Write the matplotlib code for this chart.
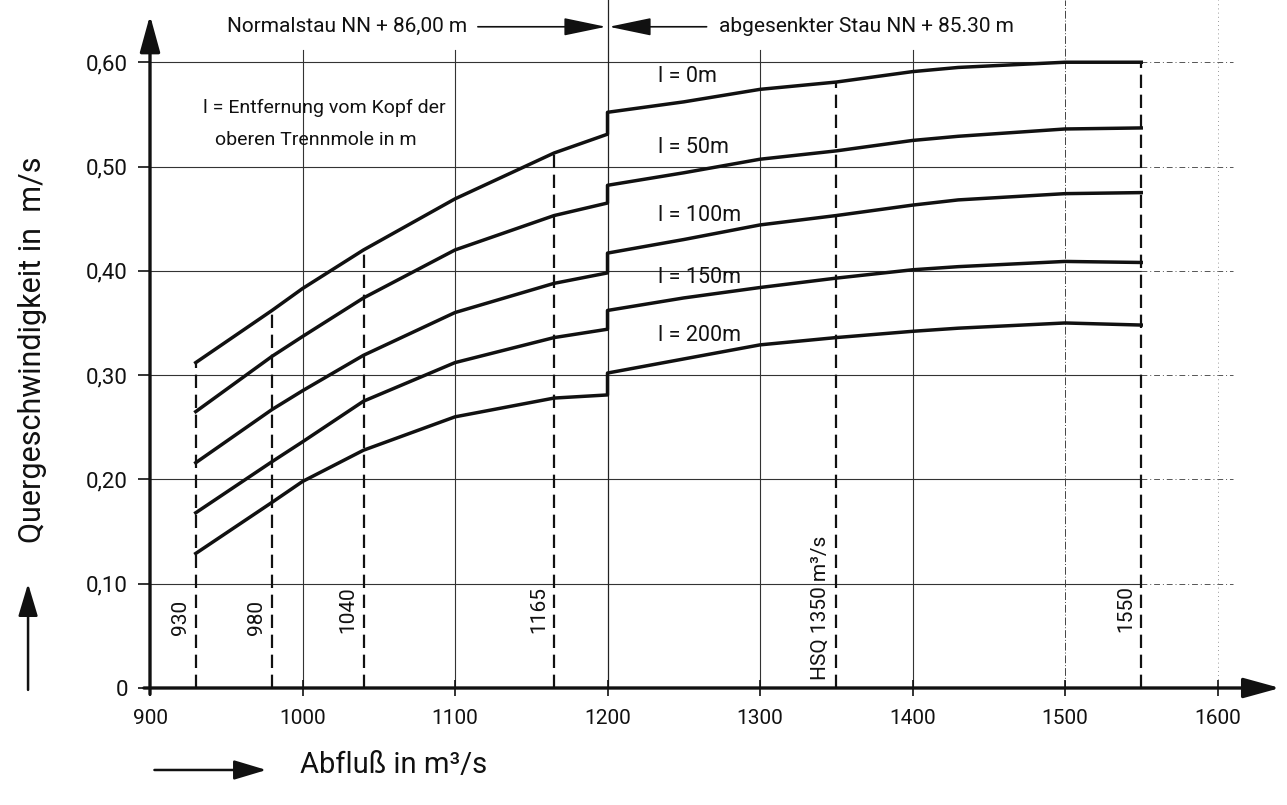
import numpy as np
import matplotlib
matplotlib.use('Agg')
import matplotlib.pyplot as plt

plt.rcParams['font.family'] = ['Roboto', 'DejaVu Sans']

# Abfluss (m3/s) - before and after the lowering of the water level at 1200
q_pre = [930, 980, 1000, 1040, 1100, 1165, 1200]
q_post = [1200, 1250, 1300, 1350, 1400, 1430, 1500, 1550]
q_post_200 = [1200, 1300, 1350, 1400, 1430, 1500, 1550]

# Quergeschwindigkeit (m/s) for l = distance from the head of the mole
v0_pre = [0.312, 0.362, 0.383, 0.420, 0.469, 0.513, 0.531]
v0_post = [0.552, 0.562, 0.574, 0.581, 0.591, 0.595, 0.600, 0.600]
v50_pre = [0.265, 0.318, 0.337, 0.374, 0.420, 0.453, 0.465]
v50_post = [0.482, 0.494, 0.507, 0.515, 0.525, 0.529, 0.536, 0.537]
v100_pre = [0.216, 0.267, 0.285, 0.319, 0.360, 0.388, 0.398]
v100_post = [0.417, 0.430, 0.444, 0.453, 0.463, 0.468, 0.474, 0.475]
v150_pre = [0.168, 0.217, 0.236, 0.275, 0.312, 0.336, 0.344]
v150_post = [0.362, 0.374, 0.384, 0.393, 0.401, 0.404, 0.409, 0.408]
v200_pre = [0.129, 0.178, 0.198, 0.228, 0.260, 0.278, 0.281]
v200_post = [0.302, 0.329, 0.336, 0.342, 0.345, 0.350, 0.348]

curve_labels = ['l = 0m', 'l = 50m', 'l = 100m', 'l = 150m', 'l = 200m']
label_y = [0.586, 0.518, 0.453, 0.394, 0.338]

# marked discharges (dashed verticals)
marks = [930, 980, 1040, 1165, 1350, 1550]
mark_labels = ['930', '980', '1040', '1165', 'HSQ 1350 m³/s', '1550']
mark_label_y = [0.051, 0.051, 0.053, 0.053, 0.008, 0.054]

xticks = [900, 1000, 1100, 1200, 1300, 1400, 1500, 1600]
yticks = [0, 0.1, 0.2, 0.3, 0.4, 0.5, 0.6]
ytick_labels = ['0', '0,10', '0,20', '0,30', '0,40', '0,50', '0,60']

INK = '#111111'

fig = plt.figure(figsize=(12.87, 8.05), dpi=100)
ax = fig.add_axes([150 / 1287, 117 / 805, 1128.5 / 1287, 672.7 / 805])
ax.set_xlim(900, 1640)
ax.set_ylim(0, 0.645)
for s in ax.spines.values():
    s.set_visible(False)

# grid
for y in yticks[1:]:
    ax.plot([900, 1550], [y, y], color='#333333', lw=0.8, zorder=1)
    ax.plot([1550, 1610], [y, y], color='#555555', lw=0.7, ls=(0, (6, 3, 1, 3)), zorder=1)
for x in [1000, 1100, 1300, 1400]:
    ax.plot([x, x], [0, 0.612], color='#333333', lw=0.8, zorder=1)
ax.plot([1200, 1200], [0, 0.68], color='#222222', lw=0.9, zorder=1, clip_on=False)
ax.plot([1500, 1500], [0, 0.66], color='#444444', lw=0.7, ls=(0, (8, 2, 1, 2)), zorder=1, clip_on=False)
ax.plot([1600, 1600], [0, 0.66], color='#777777', lw=0.6, ls=(0, (1, 4)), zorder=1, clip_on=False)

# curves with the jump at 1200
series = [(q_pre, v0_pre, q_post, v0_post),
          (q_pre, v50_pre, q_post, v50_post),
          (q_pre, v100_pre, q_post, v100_post),
          (q_pre, v150_pre, q_post, v150_post),
          (q_pre, v200_pre, q_post_200, v200_post)]
for (xa, ya, xb, yb), lab, ly in zip(series, curve_labels, label_y):
    ax.plot(np.concatenate([xa, xb]), np.concatenate([ya, yb]), color=INK, lw=2.5,
            solid_joinstyle='round', zorder=3)
    ax.text(1233, ly, lab, fontsize=15.5, ha='left', va='center', color=INK)

# dashed verticals up to the l = 0 curve
q0 = np.concatenate([q_pre, q_post])
v0 = np.concatenate([v0_pre, v0_post])
for m, lab, ty in zip(marks, mark_labels, mark_label_y):
    top = np.interp(m, q0, v0)
    ax.plot([m, m], [0, top], color=INK, lw=1.6, ls=(0, (6, 3)), zorder=2)
    ax.text(m - 4, ty, lab, rotation=90, fontsize=15, ha='right', va='bottom', color=INK)

# axes with arrows
arrow = dict(arrowstyle='-|>,head_length=0.8,head_width=0.22', lw=2.4, color=INK,
             mutation_scale=28, shrinkA=0, shrinkB=0)
ax.annotate('', xy=(900, 0.645), xytext=(900, -0.006), arrowprops=arrow, annotation_clip=False)
ax.annotate('', xy=(1641, 0), xytext=(896, 0), arrowprops=arrow, annotation_clip=False)

ax.set_xticks(xticks)
ax.set_xticklabels([str(t) for t in xticks])
ax.set_yticks(yticks)
ax.set_yticklabels(ytick_labels)
ax.tick_params(axis='x', direction='inout', length=12, width=1.2, pad=9, labelsize=15, colors=INK)
ax.tick_params(axis='y', direction='out', length=9, width=1.2, pad=7, labelsize=16, colors=INK)

# water level annotations
ax.text(1108, 0.634, 'Normalstau NN + 86,00 m', fontsize=15, ha='right', va='center', color=INK)
ax.text(1273, 0.634, 'abgesenkter Stau NN + 85.30 m', fontsize=15, ha='left', va='center', color=INK)
top_arrow = dict(arrowstyle='-|>,head_length=1.2,head_width=0.25', lw=1.2, color=INK,
                 mutation_scale=22, shrinkA=0, shrinkB=0)
ax.annotate('', xy=(1199, 0.634), xytext=(1115, 0.634), arrowprops=top_arrow, annotation_clip=False)
ax.annotate('', xy=(1201, 0.634), xytext=(1265, 0.634), arrowprops=top_arrow, annotation_clip=False)

ax.text(1014, 0.556, 'l = Entfernung vom Kopf der', fontsize=14, ha='center', va='center', color=INK)
ax.text(1009, 0.525, 'oberen Trennmole in m', fontsize=14, ha='center', va='center', color=INK)

# axis titles with their arrows
fig.text(0.0256, 0.566, 'Quergeschwindigkeit in  m/s', rotation=90, fontsize=22,
         ha='center', va='center', color=INK)
fig.text(0.233, 0.0497, 'Abfluß in m³/s', fontsize=21, ha='left', va='center', color=INK)
side_arrow = dict(arrowstyle='-|>,head_length=1.0,head_width=0.3', lw=1.8, color=INK,
                  mutation_scale=20, shrinkA=0, shrinkB=0)
ax.annotate('', xy=(0.0218, 0.275), xytext=(0.0218, 0.143), xycoords='figure fraction',
            textcoords='figure fraction', arrowprops=side_arrow)
ax.annotate('', xy=(0.207, 0.0435), xytext=(0.12, 0.0435), xycoords='figure fraction',
            textcoords='figure fraction', arrowprops=side_arrow)

fig.savefig('out.png', dpi=100, facecolor='white')
